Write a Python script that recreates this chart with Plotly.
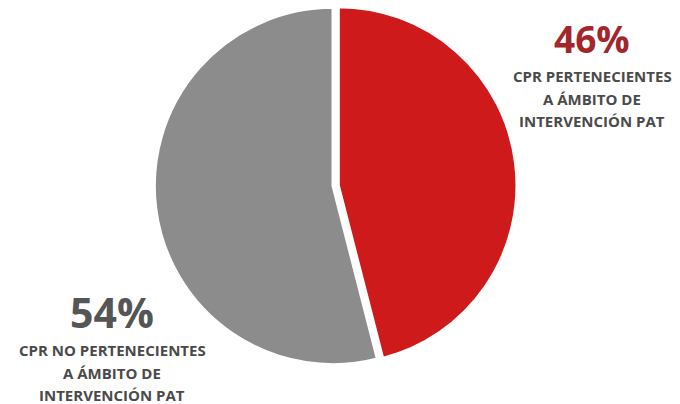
import plotly.graph_objects as go

# Share of CPR inside / outside the PAT intervention area
labels = ["CPR PERTENECIENTES A ÁMBITO DE INTERVENCIÓN PAT",
          "CPR NO PERTENECIENTES A ÁMBITO DE INTERVENCIÓN PAT"]
values = [46, 54]
colors = ["#cf1a1c", "#8c8c8c"]
pulls = [0.03, 0]

W, H = 680, 404
cx, cy, r = 333, 186, 184

fig = go.Figure(go.Pie(
    labels=labels,
    values=values,
    sort=False,
    direction="clockwise",
    rotation=0,
    pull=pulls,
    marker=dict(colors=colors, line=dict(color="white", width=3)),
    textinfo="none",
    hoverinfo="label+percent",
    showlegend=False,
    domain=dict(x=[(cx - r) / W, (cx + r) / W],
                y=[(H - cy - r) / H, (H - cy + r) / H]),
))

font_family = "Open Sans, Lato, sans-serif"

def add_label(x, y_pct, y_first, pct, lines, pct_color, pct_size):
    fig.add_annotation(x=x / W, y=1 - y_pct / H, xref="paper", yref="paper",
                       text=f"<b>{pct}%</b>", showarrow=False,
                       font=dict(family=font_family, size=pct_size, color=pct_color),
                       xanchor="center", yanchor="middle")
    for i, line in enumerate(lines):
        fig.add_annotation(x=x / W, y=1 - (y_first + i * 22.5) / H,
                           xref="paper", yref="paper",
                           text=f"<b>{line}</b>", showarrow=False,
                           font=dict(family=font_family, size=15, color="#4a4a4a"),
                           xanchor="center", yanchor="middle")

add_label(592, 39, 76, values[0],
          ["CPR PERTENECIENTES", "A ÁMBITO DE", "INTERVENCIÓN PAT"],
          "#a3262a", 37)
add_label(112, 312, 350, values[1],
          ["CPR NO PERTENECIENTES", "A ÁMBITO DE", "INTERVENCIÓN PAT"],
          "#555555", 41)

fig.update_layout(width=W, height=H, margin=dict(l=0, r=0, t=0, b=0),
                  paper_bgcolor="white", plot_bgcolor="white")

fig.write_html("out.html")
